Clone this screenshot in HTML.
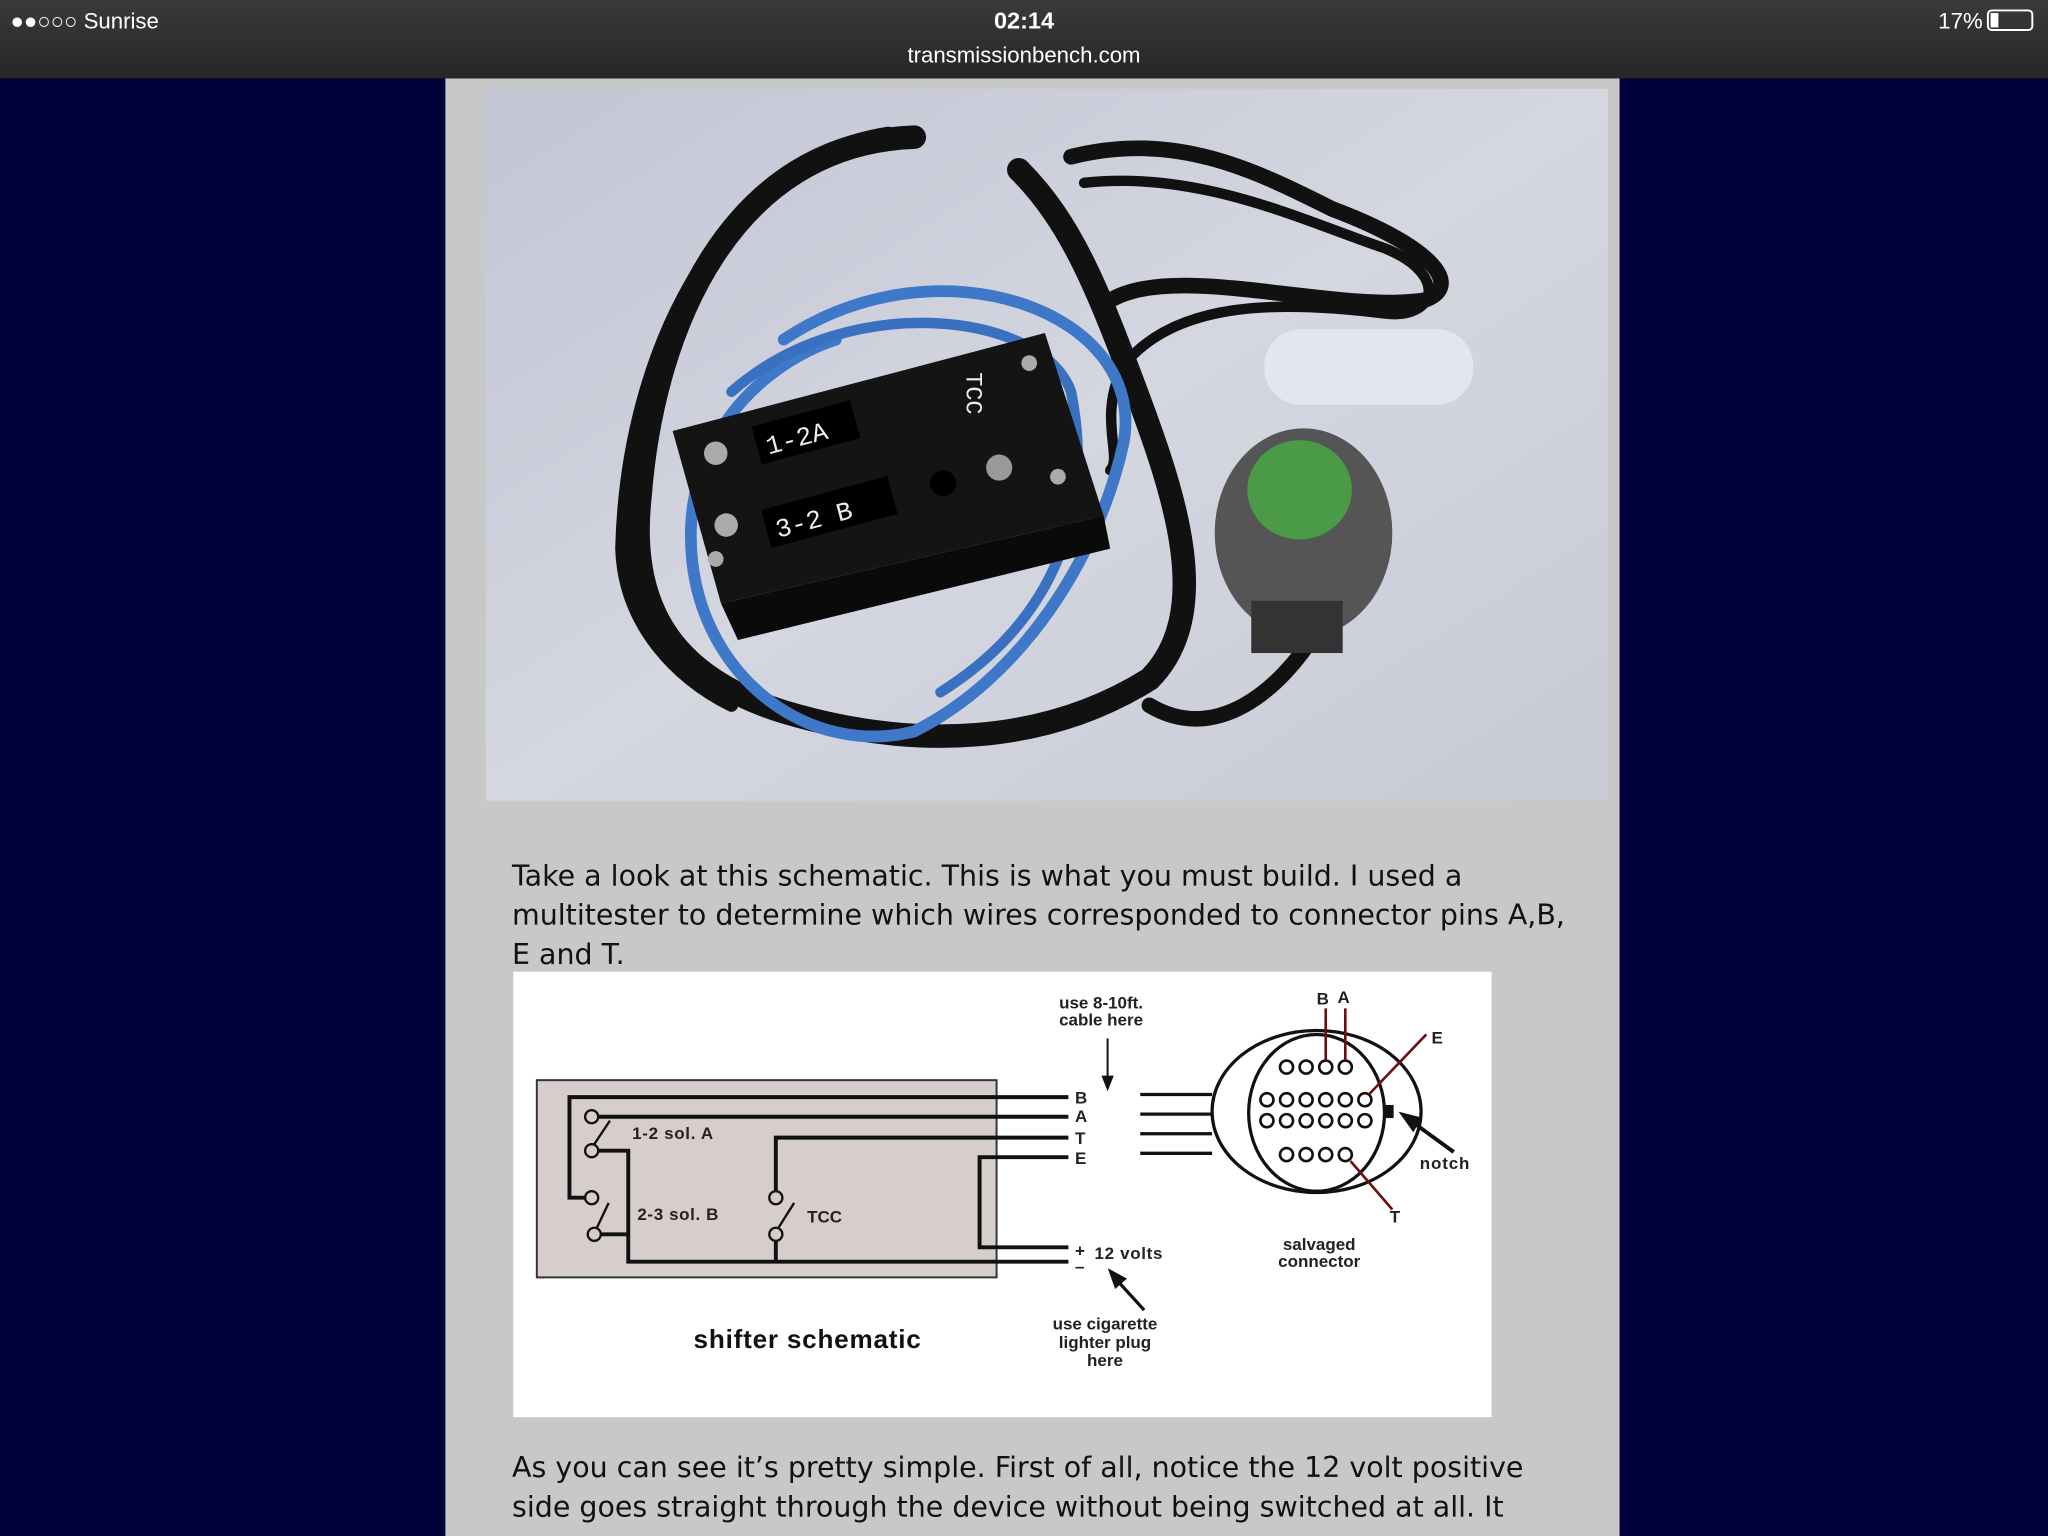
<!DOCTYPE html>
<html><head><meta charset="utf-8"><style>
html,body{margin:0;padding:0;background:#00003a;}
svg{display:block}
</style></head><body>
<svg width="2048" height="1536" viewBox="0 0 1568 1176" xmlns="http://www.w3.org/2000/svg" font-family="Liberation Sans, sans-serif">
<defs>
<linearGradient id="bar" x1="0" y1="0" x2="0" y2="1"><stop offset="0" stop-color="#3a3a3a"/><stop offset="1" stop-color="#262626"/></linearGradient>
<linearGradient id="ph" x1="0" y1="0" x2="1" y2="1"><stop offset="0" stop-color="#c2c6d4"/><stop offset="0.5" stop-color="#d4d6e0"/><stop offset="1" stop-color="#c8cad6"/></linearGradient>
</defs>
<rect width="1568" height="1176" fill="#00003a"/>
<rect x="341" y="60" width="899" height="1116" fill="#c8c8c8"/>
<rect width="1568" height="60" fill="url(#bar)"/>
<text x="8" y="22" fill="#fff" font-size="17">●●○○○ Sunrise</text>
<text x="784" y="22" fill="#fff" font-size="18" font-weight="bold" text-anchor="middle">02:14</text>
<text x="784" y="48" fill="#fff" font-size="17" text-anchor="middle">transmissionbench.com</text>
<text x="1518" y="22" fill="#fff" font-size="17" text-anchor="end">17%</text>
<rect x="1522" y="8" width="34" height="15" rx="3" fill="none" stroke="#fff" stroke-width="1.5"/>
<rect x="1524" y="10" width="6" height="11" fill="#fff"/>
<!-- photo -->
<rect x="372" y="68" width="859" height="545" fill="url(#ph)"/>
<g fill="none" stroke-linecap="round">
<path d="M700,105 C560,110 500,250 490,380 C480,470 520,520 600,545 C700,575 800,570 880,520 C930,470 900,380 870,300 C840,220 820,170 780,130" stroke="#111" stroke-width="18"/>
<path d="M680,102 C560,120 480,260 476,420 C478,480 520,520 560,540" stroke="#111" stroke-width="10"/>
<path d="M820,120 C900,100 960,130 1020,160 C1100,190 1120,220 1090,230 C1020,240 900,200 850,230" stroke="#111" stroke-width="12"/>
<path d="M830,140 C920,130 1000,170 1060,190 C1110,210 1100,245 1060,240 C980,230 900,230 860,280 C840,320 860,350 850,360" stroke="#111" stroke-width="8"/>
<path d="M880,540 C930,570 980,530 1010,480" stroke="#111" stroke-width="12"/>
<path d="M600,260 C720,180 880,240 860,340 C840,430 780,520 700,560 C620,580 540,520 530,430 C520,340 580,280 640,260" stroke="#3f78c8" stroke-width="9"/>
<path d="M560,300 C650,220 800,240 820,300 C840,400 800,480 720,530" stroke="#3a70c0" stroke-width="8"/>
</g>
<polygon points="515,330 800,255 845,395 552,462" fill="#141414"/>
<polygon points="552,462 845,395 850,420 565,490" fill="#0a0a0a"/>
<rect x="578" y="316" width="78" height="30" fill="#000" transform="rotate(-15 617 331)"/>
<text x="585" y="340" fill="#eee" font-size="20" font-family="Liberation Mono, monospace" transform="rotate(-15 617 331)">1-2A</text>
<rect x="585" y="377" width="100" height="30" fill="#000" transform="rotate(-15 635 392)"/>
<text x="592" y="401" fill="#eee" font-size="20" font-family="Liberation Mono, monospace" transform="rotate(-15 635 392)">3-2 B</text>
<text x="740" y="285" fill="#eee" font-size="18" font-family="Liberation Mono, monospace" transform="rotate(90 740 285)">TCC</text>
<circle cx="722" cy="370" r="10" fill="#000"/>
<circle cx="548" cy="347" r="9" fill="#aaa"/><circle cx="556" cy="402" r="9" fill="#aaa"/><circle cx="765" cy="358" r="10" fill="#999"/>
<circle cx="788" cy="278" r="6" fill="#aaa"/><circle cx="810" cy="365" r="6" fill="#aaa"/><circle cx="548" cy="428" r="6" fill="#aaa"/>
<rect x="968" y="252" width="160" height="58" rx="28" fill="#e4e6ee"/>
<ellipse cx="998" cy="408" rx="68" ry="80" fill="#555"/>
<ellipse cx="995" cy="375" rx="40" ry="38" fill="#4a9a48"/>
<rect x="958" y="460" width="70" height="40" fill="#333"/>
<!-- text -->
<g font-size="21.8" fill="#111" font-family="DejaVu Sans, sans-serif">
<text x="392" y="678">Take a look at this schematic. This is what you must build. I used a</text>
<text x="392" y="708">multitester to determine which wires corresponded to connector pins A,B,</text>
<text x="392" y="738">E and T.</text>
<text x="392" y="1131">As you can see it’s pretty simple. First of all, notice the 12 volt positive</text>
<text x="392" y="1161">side goes straight through the device without being switched at all. It</text>
</g>
<!-- schematic -->
<rect x="393" y="744" width="749" height="341" fill="#fff"/>
<rect x="411" y="827" width="352" height="151" fill="#d8cdcd" stroke="#333" stroke-width="1.5"/>
<g stroke="#111" stroke-width="3" fill="none">
<path d="M818,840 H436 V917 H448"/>
<path d="M818,855 H458"/>
<path d="M818,871 H594 V912"/>
<path d="M818,886 H750 V955 H818"/>
<path d="M458,881 H481 V966 H818"/>
<path d="M460,945 H481"/>
<path d="M594,950 V966"/>
</g>
<g stroke="#111" stroke-width="1.8" fill="#d8cdcd">
<circle cx="453" cy="855" r="5"/><circle cx="453" cy="881" r="5"/><circle cx="453" cy="917" r="5"/><circle cx="455" cy="945" r="5"/>
<circle cx="594" cy="917" r="5"/><circle cx="594" cy="945" r="5"/>
<path d="M455,876 L467,858 M457,940 L466,921 M596,940 L608,921"/>
</g>
<g font-size="13" font-weight="bold" fill="#222">
<text x="484" y="872" textLength="62">1-2 sol. A</text>
<text x="488" y="934" textLength="62">2-3 sol. B</text>
<text x="618" y="936">TCC</text>
<text x="823" y="845">B</text><text x="823" y="859">A</text><text x="823" y="876">T</text><text x="823" y="891">E</text>
<text x="823" y="962">+</text><text x="823" y="974">–</text>
<text x="838" y="964" textLength="52">12 volts</text>
<text x="843" y="772" text-anchor="middle">use 8-10ft.</text>
<text x="843" y="785" text-anchor="middle">cable here</text>
<text x="846" y="1018" text-anchor="middle">use cigarette</text>
<text x="846" y="1032" text-anchor="middle">lighter plug</text>
<text x="846" y="1046" text-anchor="middle">here</text>
<text x="1010" y="957" text-anchor="middle">salvaged</text>
<text x="1010" y="970" text-anchor="middle">connector</text>
<text x="1087" y="895" textLength="38">notch</text>
<text x="1008" y="769">B</text><text x="1024" y="768">A</text>
<text x="1096" y="799">E</text><text x="1064" y="936">T</text>
</g>
<text x="618" y="1032" font-size="20" font-weight="bold" text-anchor="middle" fill="#111" textLength="174">shifter schematic</text>
<g stroke="#111" fill="none">
<path d="M848,795 V830" stroke-width="1.5"/><path d="M844,824 L848,834 L852,824Z" fill="#111"/>
<path d="M876,1003 L855,980" stroke-width="2.5"/><path d="M849,972 L862,979 L854,986Z" fill="#111"/>
<path d="M1113,882 L1080,858" stroke-width="3"/><path d="M1072,852 L1088,856 L1082,866Z" fill="#111"/>
<path d="M873,838 H928 M873,853 H928 M873,868 H928 M873,883 H928" stroke-width="2.5"/>
<ellipse cx="1008" cy="851" rx="80" ry="62" stroke-width="2.5"/>
<ellipse cx="1008" cy="852" rx="52" ry="60" stroke-width="2.5"/>
</g>
<rect x="1059" y="846" width="8" height="10" fill="#111"/>
<g fill="none" stroke="#111" stroke-width="2">
<circle cx="985" cy="817" r="5"/><circle cx="1000" cy="817" r="5"/><circle cx="1015" cy="817" r="5"/><circle cx="1030" cy="817" r="5"/>
<circle cx="970" cy="842" r="5"/><circle cx="985" cy="842" r="5"/><circle cx="1000" cy="842" r="5"/><circle cx="1015" cy="842" r="5"/><circle cx="1030" cy="842" r="5"/><circle cx="1045" cy="842" r="5"/>
<circle cx="970" cy="858" r="5"/><circle cx="985" cy="858" r="5"/><circle cx="1000" cy="858" r="5"/><circle cx="1015" cy="858" r="5"/><circle cx="1030" cy="858" r="5"/><circle cx="1045" cy="858" r="5"/>
<circle cx="985" cy="884" r="5"/><circle cx="1000" cy="884" r="5"/><circle cx="1015" cy="884" r="5"/><circle cx="1030" cy="884" r="5"/>
</g>
<g stroke="#6a1010" stroke-width="2">
<path d="M1015,812 V772 M1030,812 V772 M1048,838 L1092,792 M1034,889 L1066,926"/>
</g>
</svg>
</body></html>
